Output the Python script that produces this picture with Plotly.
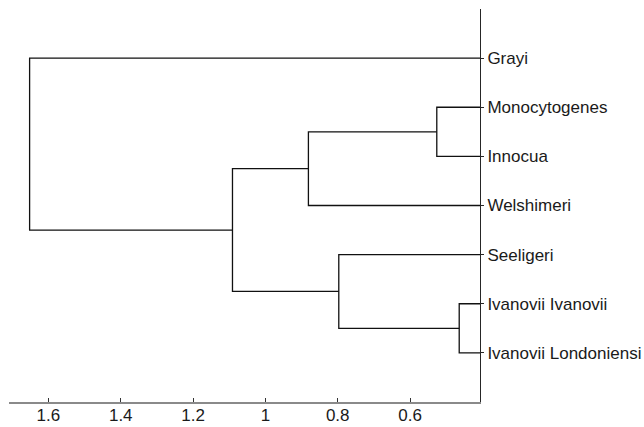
import plotly.graph_objects as go

# Leaves, top to bottom
labels = ["Grayi", "Monocytogenes", "Innocua", "Welshimeri",
          "Seeligeri", "Ivanovii Ivanovii", "Ivanovii Londoniensi"]
leaf_distance = 0.4065

# Linkage: (left child, right child, merge height); leaves are 0..6, new nodes 7..
merge_left = [1, 5, 7, 4, 9, 0]
merge_right = [2, 6, 3, 8, 10, 11]
merge_height = [0.526, 0.464, 0.881, 0.797, 1.091, 1.652]

tick_vals = [1.6, 1.4, 1.2, 1.0, 0.8, 0.6]
tick_text = ["1.6", "1.4", "1.2", "1", "0.8", "0.6"]

# node positions
node_x = [leaf_distance] * len(labels)
node_y = [i + 1 for i in range(len(labels))]
xs, ys = [], []
for l, r, h in zip(merge_left, merge_right, merge_height):
    xs += [node_x[l], h, h, node_x[r], None]
    ys += [node_y[l], node_y[l], node_y[r], node_y[r], None]
    node_x.append(h)
    node_y.append((node_y[l] + node_y[r]) / 2)

fig = go.Figure()
fig.add_trace(go.Scatter(x=xs, y=ys, mode="lines",
                         line=dict(color="#111111", width=1.3),
                         hoverinfo="skip", showlegend=False))

font = dict(family="Liberation Sans, Arial, sans-serif", size=17, color="#1a1a1a")
fig.update_layout(
    width=644, height=427,
    margin=dict(l=9, r=164, t=9, b=25),
    plot_bgcolor="white", paper_bgcolor="white",
    font=font,
    xaxis=dict(range=[1.709, leaf_distance], tickvals=tick_vals, ticktext=tick_text,
               ticks="inside", ticklen=4, tickcolor="#333333", tickwidth=1,
               ticklabelstandoff=-3,
               showline=True, linecolor="#8a8a8a", linewidth=2,
               showgrid=False, zeroline=False, automargin=False, tickfont=font),
    yaxis=dict(range=[8, 0], tickvals=node_y[:len(labels)], ticktext=labels,
               side="right", ticks="outside", ticklen=3, tickcolor="#262626",
               showline=True, linecolor="#262626", linewidth=1,
               showgrid=False, zeroline=False, automargin=False, tickfont=font),
)
fig.write_html("out.html")
